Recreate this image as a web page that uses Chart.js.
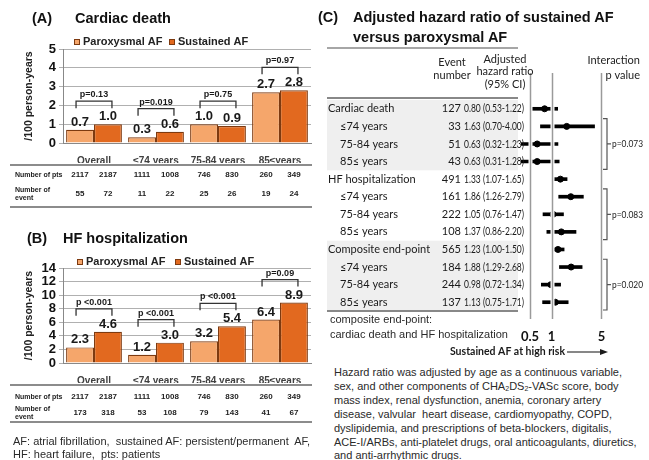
<!DOCTYPE html>
<html>
<head>
<meta charset="utf-8">
<script src="https://cdn.jsdelivr.net/npm/chart.js@4.4.1/dist/chart.umd.min.js"></script>
<style>
  body { margin: 0; background: #fff; }
  #page { position: relative; width: 649px; height: 460px; overflow: hidden;
          font-family: "Liberation Sans", Arial, sans-serif; color: #222; }
  canvas { position: absolute; }
  .txt { position: absolute; white-space: nowrap; }
  .ttl { font-weight: bold; font-size: 14.5px; line-height: 18px; color: #111; }
  .note { font-size: 11px; line-height: 14px; color: #2a2a2a; }
  sub { font-size: 7px; vertical-align: -1px; line-height: 0; }
</style>
</head>
<body>
<div id="page">
  <canvas id="chartA" width="318" height="215" style="left:0;top:0"></canvas>
  <canvas id="chartB" width="318" height="235" style="left:0;top:222px"></canvas>
  <canvas id="forest" width="331" height="365" style="left:318px;top:0"></canvas>

  <div class="txt ttl" style="left:32px;top:9px">(A)</div>
  <div class="txt ttl" style="left:75px;top:9px">Cardiac death</div>
  <div class="txt ttl" style="left:27px;top:229px">(B)</div>
  <div class="txt ttl" style="left:63px;top:229px">HF hospitalization</div>
  <div class="txt ttl" style="left:318px;top:8px">(C)</div>
  <div class="txt ttl" style="left:353px;top:8px">Adjusted hazard ratio of sustained AF</div>
  <div class="txt ttl" style="left:353px;top:28px">versus paroxysmal AF</div>

  <div class="txt note" style="left:13px;top:435px;line-height:13px">
    AF: atrial fibrillation,&nbsp; sustained AF: persistent/permanent&nbsp; AF,<br>
    HF: heart failure,&nbsp; pts: patients
  </div>
  <div class="txt note" style="left:330px;top:312px;line-height:15px">
    composite end-point:<br>cardiac death and HF hospitalization
  </div>
  <div class="txt note" style="left:334px;top:366px;line-height:13.9px">
    Hazard ratio was adjusted by age as a continuous variable,<br>
    sex, and other components of CHA<sub>2</sub>DS<sub>2</sub>-VASc score, body<br>
    mass index, renal dysfunction, anemia, coronary artery<br>
    disease, valvular&nbsp; heart disease, cardiomyopathy, COPD,<br>
    dyslipidemia, and prescriptions of beta-blockers, digitalis,<br>
    ACE-I/ARBs, anti-platelet drugs, oral anticoagulants, diuretics,<br>
    and anti-arrhythmic drugs.
  </div>
</div>

<script>
  // Panel A/B data: incidence per 100 person-years
  const categories = ['Overall', '≤74 years', '75-84 years', '85≤years'];
  const seriesNames = ['Paroxysmal AF', 'Sustained AF'];

  const cardiacParoxysmal = [0.7, 0.3, 1.0, 2.7];
  const cardiacSustained = [1.0, 0.6, 0.9, 2.8];
  const cardiacP = ['p=0.13', 'p=0.019', 'p=0.75', 'p=0.97'];
  const cardiacEventsParoxysmal = [55, 11, 25, 19];
  const cardiacEventsSustained = [72, 22, 26, 24];

  const hfParoxysmal = [2.3, 1.2, 3.2, 6.4];
  const hfSustained = [4.6, 3.0, 5.4, 8.9];
  const hfP = ['p <0.001', 'p <0.001', 'p <0.001', 'p=0.09'];
  const hfEventsParoxysmal = [173, 53, 79, 41];
  const hfEventsSustained = [318, 108, 143, 67];

  const ptsParoxysmal = [2117, 1111, 746, 260];
  const ptsSustained = [2187, 1008, 830, 349];

  // Panel C data: adjusted hazard ratios
  const forestRows = ['Cardiac death', '≤74 years', '75-84 years', '85≤ years',
    'HF hospitalization', '≤74 years', '75-84 years', '85≤ years',
    'Composite end-point', '≤74 years', '75-84 years', '85≤ years'];
  const eventNumbers = [127, 33, 51, 43, 491, 161, 222, 108, 565, 184, 244, 137];
  const hazardRatio = [0.80, 1.63, 0.63, 0.63, 1.33, 1.86, 1.05, 1.37, 1.23, 1.88, 0.98, 1.13];
  const ciLow = [0.53, 0.70, 0.32, 0.31, 1.07, 1.26, 0.76, 0.86, 1.00, 1.29, 0.72, 0.75];
  const ciHigh = [1.22, 4.00, 1.23, 1.28, 1.65, 2.79, 1.47, 2.20, 1.50, 2.68, 1.34, 1.71];
  const interactionP = ['p=0.073', 'p=0.083', 'p=0.020'];
  const hrTicks = [0.5, 1, 5];

  const FONT = '"Liberation Sans", Arial, sans-serif';
  const CFONT = 'Lato, "Open Sans", sans-serif';
  const PAROX_COLOR = '#f5a66b';
  const SUST_COLOR = '#e2691f';
  const BAR_EDGE = '#7d3a10';

  // labels, p brackets, legend and the small table under each bar chart
  const barPanelPlugin = {
    id: 'barPanel',
    afterDatasetsDraw(chart, args, opts) {
      const ctx = chart.ctx;
      const metas = [chart.getDatasetMeta(0), chart.getDatasetMeta(1)];
      ctx.save();
      ctx.fillStyle = '#1a1a1a';
      ctx.font = 'bold 13px ' + FONT;
      ctx.textAlign = 'center';
      ctx.textBaseline = 'bottom';
      metas.forEach((meta, d) => {
        const values = chart.data.datasets[d].data;
        meta.data.forEach((bar, i) => ctx.fillText(values[i].toFixed(1), bar.x, bar.y - 1));
      });

      ctx.strokeStyle = '#333';
      ctx.lineWidth = 1.3;
      ctx.font = 'bold 9px ' + FONT;
      opts.pValues.forEach((p, i) => {
        const b0 = metas[0].data[i], b1 = metas[1].data[i];
        const top = Math.min(b0.y, b1.y) - 23;
        const x0 = b0.x - 4, x1 = b1.x + 4;
        ctx.beginPath();
        ctx.moveTo(x0, top + 7);
        ctx.lineTo(x0, top);
        ctx.lineTo(x1, top);
        ctx.lineTo(x1, top + 7);
        ctx.stroke();
        ctx.fillText(p, (x0 + x1) / 2, top - 2);
      });
      ctx.restore();
    },
    afterDraw(chart, args, opts) {
      const ctx = chart.ctx;
      const metas = [chart.getDatasetMeta(0), chart.getDatasetMeta(1)];
      ctx.save();

      // legend
      ctx.font = 'bold 11px ' + FONT;
      ctx.textAlign = 'left';
      ctx.textBaseline = 'middle';
      chart.data.datasets.forEach((ds, d) => {
        const x = opts.legendX[d], y = opts.legendY;
        ctx.fillStyle = ds.backgroundColor;
        ctx.fillRect(x, y - 3, 6, 6);
        ctx.strokeStyle = BAR_EDGE;
        ctx.lineWidth = 1;
        ctx.strokeRect(x + 0.5, y - 2.5, 5, 5);
        ctx.fillStyle = '#222';
        ctx.fillText(ds.label, x + 9, y);
      });

      // table
      const t = opts.table;
      ctx.strokeStyle = '#8c8c8c';
      ctx.lineWidth = 2;
      [t.lineTop, t.lineBottom].forEach(y => {
        ctx.beginPath();
        ctx.moveTo(10, y);
        ctx.lineTo(312, y);
        ctx.stroke();
      });
      ctx.fillStyle = '#222';
      t.rows.forEach((row, r) => {
        const y = t.rowY[r];
        ctx.font = 'bold 7px ' + FONT;
        ctx.textAlign = 'left';
        row.label.forEach((line, k) => {
          ctx.fillText(line, 15, y + (k - (row.label.length - 1) / 2) * 8);
        });
        ctx.font = 'bold 8px ' + FONT;
        ctx.textAlign = 'center';
        row.values.forEach((arr, d) => {
          arr.forEach((v, i) => ctx.fillText(String(v), metas[d].data[i].x, y));
        });
      });
      ctx.restore();
    }
  };

  function makeBarChart(id, parox, sust, yMax, yStep, pValues, events, layout) {
    return new Chart(document.getElementById(id), {
      type: 'bar',
      data: {
        labels: categories,
        datasets: [
          { label: seriesNames[0], data: parox, backgroundColor: PAROX_COLOR,
            borderColor: BAR_EDGE, borderWidth: 1.2 },
          { label: seriesNames[1], data: sust, backgroundColor: SUST_COLOR,
            borderColor: BAR_EDGE, borderWidth: 1.2 },
        ],
      },
      options: {
        responsive: false,
        animation: false,
        categoryPercentage: 0.9,
        barPercentage: 1.0,
        layout: { padding: { left: 0, right: 7, top: layout.top, bottom: layout.bottom } },
        plugins: {
          legend: { display: false },
          tooltip: { enabled: false },
          barPanel: {
            pValues: pValues,
            legendX: layout.legendX,
            legendY: layout.legendY,
            table: {
              lineTop: layout.lineTop,
              lineBottom: layout.lineBottom,
              rowY: layout.rowY,
              rows: [
                { label: ['Number of pts'], values: [ptsParoxysmal, ptsSustained] },
                { label: ['Number of', 'event'], values: events },
              ],
            },
          },
        },
        scales: {
          x: {
            afterFit: s => { s.height = 20; },
            grid: { display: false },
            border: { color: '#888' },
            ticks: { font: { family: FONT, size: 10, weight: 'bold' }, color: '#404040', padding: 4 },
          },
          y: {
            min: 0,
            max: yMax,
            afterFit: s => { s.width = 63; },
            grid: { color: '#b0b0b0', tickLength: 4 },
            border: { color: '#888' },
            ticks: { stepSize: yStep, autoSkip: false, font: { family: FONT, size: 13, weight: 'bold' }, color: '#111', padding: 3 },
            title: {
              display: true,
              text: '/100 person-years',
              font: { family: FONT, size: 10.5, weight: 'bold' },
              color: '#222',
              padding: { top: 23, bottom: 0 },
            },
          },
        },
      },
      plugins: [barPanelPlugin],
    });
  }

  makeBarChart('chartA', cardiacParoxysmal, cardiacSustained, 5, 1, cardiacP,
    [cardiacEventsParoxysmal, cardiacEventsSustained],
    { top: 49, bottom: 52, legendX: [74, 169], legendY: 42,
      lineTop: 165, lineBottom: 207, rowY: [175, 194] });

  makeBarChart('chartB', hfParoxysmal, hfSustained, 14, 2, hfP,
    [hfEventsParoxysmal, hfEventsSustained],
    { top: 46, bottom: 74, legendX: [77, 175], legendY: 40,
      lineTop: 163, lineBottom: 200, rowY: [175, 191] });

  // Panel C: table text, reference lines and interaction brackets
  const forestPlugin = {
    id: 'forestPanel',
    beforeDatasetsDraw(chart) {
      const ctx = chart.ctx;
      const ys = chart.scales.y;
      const h = ys.getPixelForValue(1) - ys.getPixelForValue(0);
      ctx.save();
      ctx.fillStyle = '#efefef';
      [0, 8].forEach(start => {
        const top = ys.getPixelForValue(start) - h / 2;
        ctx.fillRect(9, top, 191, 4 * h);
      });
      ctx.restore();
    },
    afterDatasetsDraw(chart) {
      const ctx = chart.ctx;
      const xs = chart.scales.x;
      ctx.save();
      hrTicks.forEach(v => {
        const x = Math.round(xs.getPixelForValue(v)) + 0.5;
        ctx.strokeStyle = '#fff';
        ctx.lineWidth = 4;
        ctx.beginPath(); ctx.moveTo(x, 73); ctx.lineTo(x, 319); ctx.stroke();
        ctx.strokeStyle = '#9a9a9a';
        ctx.lineWidth = 1.5;
        ctx.beginPath(); ctx.moveTo(x, 73); ctx.lineTo(x, 319); ctx.stroke();
      });
      ctx.restore();
    },
    afterDraw(chart) {
      const ctx = chart.ctx;
      const ys = chart.scales.y;
      const h = ys.getPixelForValue(1) - ys.getPixelForValue(0);
      ctx.save();

      // rules
      ctx.strokeStyle = '#888';
      [[48, 1.5], [98, 2], [311, 2]].forEach(([y, w]) => {
        ctx.lineWidth = w;
        ctx.beginPath(); ctx.moveTo(9, y); ctx.lineTo(200, y); ctx.stroke();
      });

      // header
      ctx.fillStyle = '#222';
      ctx.font = '11px ' + CFONT;
      ctx.textBaseline = 'middle';
      ctx.textAlign = 'center';
      ctx.fillText('Event', 134, 62);
      ctx.fillText('number', 134, 75);
      ctx.fillText('Adjusted', 187, 59);
      ctx.fillText('hazard ratio', 187, 71);
      ctx.fillText('(95% CI)', 187, 84);
      ctx.textAlign = 'right';
      ctx.fillText('Interaction', 322, 60);
      ctx.fillText('p value', 322, 75);

      // rows
      ctx.fillStyle = '#1a1a1a';
      ctx.font = '11px ' + CFONT;
      forestRows.forEach((name, i) => {
        const y = ys.getPixelForValue(i);
        ctx.textAlign = 'left';
        ctx.fillText(name, i % 4 === 0 ? 10 : 22, y);
        ctx.textAlign = 'right';
        ctx.fillText(String(eventNumbers[i]), 143, y);
        ctx.textAlign = 'left';
        const hrText = hazardRatio[i].toFixed(2) + ' (' + ciLow[i].toFixed(2) + '-' + ciHigh[i].toFixed(2) + ')';
        ctx.fillText(hrText, 146, y, 60);
      });

      // interaction brackets
      ctx.strokeStyle = '#555';
      ctx.lineWidth = 1.2;
      ctx.font = '10px ' + CFONT;
      interactionP.forEach((p, g) => {
        const top = ys.getPixelForValue(4 * g + 1) - h / 2 + 1;
        const bottom = ys.getPixelForValue(4 * g + 3) + h / 2 - 1;
        const mid = (top + bottom) / 2;
        ctx.beginPath();
        ctx.moveTo(285, top); ctx.lineTo(289, top); ctx.lineTo(289, bottom); ctx.lineTo(285, bottom);
        ctx.moveTo(289, mid); ctx.lineTo(293, mid);
        ctx.stroke();
        ctx.textAlign = 'left';
        ctx.fillText(p, 294, mid, 31);
      });

      // direction arrow
      ctx.fillStyle = '#1a1a1a';
      ctx.font = 'bold 10.5px ' + CFONT;
      ctx.textAlign = 'right';
      ctx.fillText('Sustained AF at high risk', 247, 352);
      ctx.strokeStyle = '#111';
      ctx.lineWidth = 1.2;
      ctx.beginPath(); ctx.moveTo(249, 352); ctx.lineTo(284, 352); ctx.stroke();
      ctx.beginPath(); ctx.moveTo(290, 352); ctx.lineTo(282, 349); ctx.lineTo(282, 355); ctx.closePath(); ctx.fill();
      ctx.restore();
    }
  };

  new Chart(document.getElementById('forest'), {
    type: 'bar',
    data: {
      labels: forestRows,
      datasets: [
        { type: 'line', label: 'Hazard ratio', data: hazardRatio, indexAxis: 'y', showLine: false,
          pointRadius: 3, pointBackgroundColor: '#000', pointBorderColor: '#000', order: 0 },
        { label: '95% CI', data: ciLow.map((lo, i) => [lo, ciHigh[i]]), indexAxis: 'y',
          backgroundColor: '#000', barThickness: 3, order: 1 },
      ],
    },
    options: {
      indexAxis: 'y',
      responsive: false,
      animation: false,
      layout: { padding: { left: 203, right: 39, top: 100, bottom: 24 } },
      plugins: { legend: { display: false }, tooltip: { enabled: false } },
      scales: {
        x: {
          type: 'logarithmic',
          min: 0.374,
          max: 6.58,
          afterBuildTicks: s => { s.ticks = hrTicks.map(v => ({ value: v })); },
          afterFit: s => { s.height = 30; },
          grid: { display: false, drawTicks: false },
          border: { display: false },
          ticks: {
            callback: v => String(v),
            autoSkip: false,
            maxRotation: 0,
            font: { family: 'Lato', size: 13, weight: 'bold' },
            color: '#111',
            padding: 18,
          },
        },
        y: { display: false },
      },
    },
    plugins: [forestPlugin],
  });
</script>
</body>
</html>
